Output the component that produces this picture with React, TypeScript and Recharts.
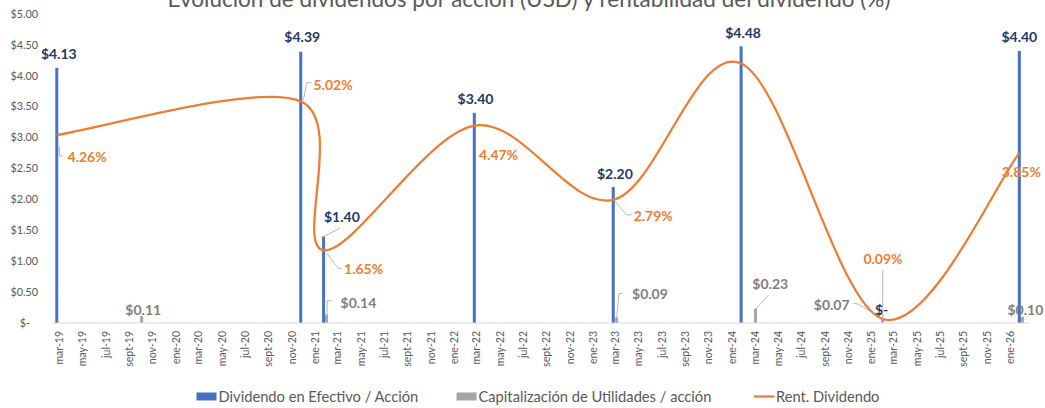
import React from 'react';
import { ComposedChart, Bar, Line, XAxis, YAxis, LabelList } from 'recharts';

// ---------------- DATA ----------------
const chartTitle = 'Evolución de dividendos por acción (USD) y rentabilidad del dividendo (%)';

const paymentDates = [
  '2019-02-22', '2019-10-03', '2020-11-24', '2021-01-23', '2021-01-31', '2022-02-23',
  '2023-02-23', '2023-03-04', '2024-01-25', '2024-03-03', '2025-01-31', '2026-01-25', '2026-02-02',
];
const cashDividend: (number | null)[] = [4.13, null, 4.39, 1.4, null, 3.4, 2.2, null, 4.48, null, 0, 4.4, null];
const capitalization: (number | null)[] = [null, 0.11, null, null, 0.14, null, null, 0.09, null, 0.23, 0.07, null, 0.1];
const dividendYield: (number | null)[] = [4.26, null, 5.02, 1.65, null, 4.47, 2.79, null, 5.88, null, 0.09, 3.85, null];

const tickLabels = [
  'mar-19', 'may-19', 'jul-19', 'sept-19', 'nov-19', 'ene-20', 'mar-20', 'may-20', 'jul-20', 'sept-20', 'nov-20',
  'ene-21', 'mar-21', 'may-21', 'jul-21', 'sept-21', 'nov-21', 'ene-22', 'mar-22', 'may-22', 'jul-22', 'sept-22',
  'nov-22', 'ene-23', 'mar-23', 'may-23', 'jul-23', 'sept-23', 'nov-23', 'ene-24', 'mar-24', 'may-24', 'jul-24',
  'sept-24', 'nov-24', 'ene-25', 'mar-25', 'may-25', 'jul-25', 'sept-25', 'nov-25', 'ene-26',
];
const usdTicks = [0, 0.5, 1, 1.5, 2, 2.5, 3, 3.5, 4, 4.5, 5];
const axisStart = '2019-02-12';
const axisEnd = '2026-02-22';

const seriesNames = ['Dividendo en Efectivo / Acción', 'Capitalización de Utilidades / acción', 'Rent. Dividendo'];

// ---------------- STYLE / LAYOUT ----------------
const FONT = "Lato, 'Open Sans', sans-serif";
const BLUE = '#4472c4';
const GRAY = '#a5a5a5';
const ORANGE = '#ed7d31';
const NAVY = '#1f3864';
const LABEL_GRAY = '#7f7f7f';
const TEXT_GRAY = '#595959';
const LEADER = '#a6a6a6';

type Layout = { dx: number; dy: number; leader?: number[][] };

const cashLabelLayout: Record<string, Layout> = {
  '2019-02-22': { dx: 2, dy: -14 },
  '2020-11-24': { dx: 1.5, dy: -14.4 },
  '2021-01-23': { dx: 18.3, dy: -19.5, leader: [[-0.2, 0.2], [16.3, -8.2]] },
  '2022-02-23': { dx: 1.2, dy: -14 },
  '2023-02-23': { dx: 1.7, dy: -13 },
  '2024-01-25': { dx: 2, dy: -13 },
  '2025-01-31': { dx: -1, dy: -13 },
  '2026-01-25': { dx: 0, dy: -14 },
};
const capLabelLayout: Record<string, Layout> = {
  '2019-10-03': { dx: 1.6, dy: -6.5 },
  '2021-01-31': { dx: 31.8, dy: -11.8, leader: [[0.5, 0], [0.6, -13.6], [5, -13.6]] },
  '2023-03-04': { dx: 33.3, dy: -23.4, leader: [[0, 0], [2.3, -24], [6, -24]] },
  '2024-03-03': { dx: 14.7, dy: -24.8, leader: [[0, 0.5], [13, -13.8]] },
  '2025-01-31': { dx: -51, dy: -13.7, leader: [[-29.4, -15.4], [-24.7, -14.7], [-6, -3.7]] },
  '2026-02-02': { dx: 3, dy: -6.8 },
};
const yieldLabelLayout: Record<string, Layout> = {
  '2019-02-22': { dx: 30.3, dy: 21.7, leader: [[2.6, 11.7], [2.6, 21], [6.6, 21]] },
  '2020-11-24': { dx: 32.3, dy: -16.4, leader: [[2.6, -1.4], [6, -18.7], [11, -18.7]] },
  '2021-01-23': { dx: 40, dy: 18.8, leader: [[3, 3.1], [14.6, 18.1], [18, 18.1]] },
  '2022-02-23': { dx: 24.2, dy: 29.3 },
  '2023-02-23': { dx: 40, dy: 15.8, leader: [[1.7, 1.7], [13.4, 15], [18.4, 15]] },
  '2025-01-31': { dx: 0.3, dy: -60, leader: [[0, -49], [0, 2.7]] },
  '2026-01-25': { dx: 2, dy: 19 },
};

// ---------------- DERIVED TABLE ----------------
const toTime = (iso: string) => Date.parse(iso + 'T00:00:00Z');

const data = paymentDates.map((d, i) => ({
  key: d,
  t: toTime(d),
  cash: cashDividend[i],
  cap: capitalization[i],
  yld: dividendYield[i],
}));
const byTime = new Map<number, (typeof data)[number]>(data.map((r) => [r.t, r]));

const MONTHS: Record<string, number> = {
  ene: 0, feb: 1, mar: 2, abr: 3, may: 4, jun: 5, jul: 6, ago: 7, sept: 8, oct: 9, nov: 10, dic: 11,
};
const tickValues = tickLabels.map((l) => {
  const [m, y] = l.split('-');
  return Date.UTC(2000 + Number(y), MONTHS[m], 1);
});
const tickLabelOf = new Map<number, string>(tickValues.map((v, i) => [v, tickLabels[i]]));

// Excel-like smoothed line (Catmull-Rom style bezier)
const excelCurve: any = (context: any) => {
  let pts: [number, number][] = [];
  return {
    areaStart() {},
    areaEnd() {},
    lineStart() {
      pts = [];
    },
    point(x: number, y: number) {
      pts.push([+x, +y]);
    },
    lineEnd() {
      const n = pts.length;
      if (n === 0) return;
      context.moveTo(pts[0][0], pts[0][1]);
      for (let i = 0; i < n - 1; i++) {
        const p0 = pts[Math.max(i - 1, 0)];
        const p1 = pts[i];
        const p2 = pts[i + 1];
        const p3 = pts[Math.min(i + 2, n - 1)];
        context.bezierCurveTo(
          p1[0] + (p2[0] - p0[0]) / 6,
          p1[1] + (p2[1] - p0[1]) / 6,
          p2[0] - (p3[0] - p1[0]) / 6,
          p2[1] - (p3[1] - p1[1]) / 6,
          p2[0],
          p2[1],
        );
      }
    },
  };
};

const fmtUsd = (v: number) => (v === 0 ? '$-' : `$${v.toFixed(2)}`);
const fmtPct = (v: number) => `${v.toFixed(2)}%`;

const LabelText = ({
  ax, ay, lay, color, text,
}: { ax: number; ay: number; lay: Layout; color: string; text: string }) => (
  <g>
    {lay.leader && (
      <polyline
        points={lay.leader.map(([lx, ly]) => `${ax + lx},${ay + ly}`).join(' ')}
        fill="none"
        stroke={LEADER}
        strokeWidth={0.8}
      />
    )}
    <text
      x={ax + lay.dx}
      y={ay + lay.dy}
      dy="0.36em"
      textAnchor="middle"
      fontFamily={FONT}
      fontWeight={700}
      fontSize={14}
      fill={color}
    >
      {text}
    </text>
  </g>
);

function makeLabel(
  field: 'cash' | 'cap' | 'yld',
  layouts: Record<string, Layout>,
  fallback: Layout | null,
  color: string,
  fmt: (v: number) => string,
) {
  return (props: any) => {
    const rec = byTime.get(props.value) ?? data[props.index];
    if (!rec) return null;
    const v = rec[field];
    const vb = props.viewBox ?? {};
    const px = props.x ?? vb.x;
    const py = props.y ?? vb.y;
    const w = props.width ?? vb.width ?? 0;
    const h = props.height ?? vb.height ?? 0;
    if (px == null || py == null || Number.isNaN(px) || Number.isNaN(py)) return null;
    const ax = field === 'yld' ? px : px + w / 2;
    const parts: React.ReactNode[] = [];
    if (v != null) {
      const lay = layouts[rec.key] ?? fallback;
      if (lay) parts.push(<LabelText key="main" ax={ax} ay={py} lay={lay} color={color} text={fmt(v)} />);
    }
    // a zero cash dividend draws no bar: its "$-" label sits at the base of the stacked column
    if (field === 'cap' && rec.cash === 0) {
      const lay = cashLabelLayout[rec.key] ?? { dx: 0, dy: -13 };
      parts.push(<LabelText key="zero" ax={ax} ay={py + h} lay={lay} color={NAVY} text={fmtUsd(0)} />);
    }
    if (!parts.length) return null;
    return <g>{parts}</g>;
  };
}

const CashLabel = makeLabel('cash', cashLabelLayout, { dx: 1.5, dy: -13.5 }, NAVY, fmtUsd);
const CapLabel = makeLabel('cap', capLabelLayout, { dx: 1.5, dy: -6.5 }, LABEL_GRAY, fmtUsd);
const YieldLabel = makeLabel('yld', yieldLabelLayout, null, ORANGE, fmtPct);

const CashLabelNonZero = (props: any) => {
  const rec = byTime.get(props.value) ?? data[props.index];
  if (!rec || rec.cash === 0) return null;
  return CashLabel(props);
};

const XTick = (props: any) => {
  const { x, y, payload } = props;
  return (
    <text
      transform={`translate(${x},${y}) rotate(-90)`}
      textAnchor="end"
      dy="0.35em"
      fontFamily={FONT}
      fontSize={10.5}
      fill={TEXT_GRAY}
    >
      {tickLabelOf.get(payload.value) ?? ''}
    </text>
  );
};

const YTick = (props: any) => {
  const { x, y, payload } = props;
  const v = payload.value as number;
  return (
    <text x={v === 0 ? x - 8 : x} y={y} dy="0.35em" textAnchor="end" fontFamily={FONT} fontSize={10.8} fill={TEXT_GRAY}>
      {v === 0 ? '$-' : `$${v.toFixed(2)}`}
    </text>
  );
};

const LEGEND_FONT = 14.7;

export default function App() {
  return (
    <div style={{ position: 'absolute', left: 0, top: 0, width: 1045, height: 408, background: '#fff' }}>
      <ComposedChart
        width={1045}
        height={408}
        data={data}
        margin={{ top: 14, right: 15, bottom: 0, left: 0 }}
      >
        <XAxis
          dataKey="t"
          type="number"
          domain={[toTime(axisStart), toTime(axisEnd)]}
          ticks={tickValues}
          interval={0}
          height={85}
          tickLine={false}
          tickSize={0}
          tickMargin={8}
          axisLine={{ stroke: '#d9d9d9', strokeWidth: 1 }}
          tick={<XTick />}
        />
        <YAxis
          yAxisId="usd"
          domain={[0, 5]}
          ticks={usdTicks}
          width={53}
          axisLine={false}
          tickLine={false}
          tickSize={0}
          tickMargin={15}
          tick={<YTick />}
        />
        <YAxis yAxisId="pct" orientation="right" domain={[0, 7]} hide />
        <Bar
          yAxisId="usd"
          dataKey="cash"
          name={seriesNames[0]}
          stackId="div"
          fill={BLUE}
          barSize={3}
          isAnimationActive={false}
        >
          <LabelList dataKey="t" content={CashLabelNonZero} />
        </Bar>
        <Bar
          yAxisId="usd"
          dataKey="cap"
          name={seriesNames[1]}
          stackId="div"
          fill={GRAY}
          barSize={3}
          isAnimationActive={false}
        >
          <LabelList dataKey="t" content={CapLabel} />
        </Bar>
        <Line
          yAxisId="pct"
          dataKey="yld"
          name={seriesNames[2]}
          type={excelCurve}
          stroke={ORANGE}
          strokeWidth={2.25}
          dot={false}
          activeDot={false}
          connectNulls
          isAnimationActive={false}
        >
          <LabelList dataKey="t" content={YieldLabel} />
        </Line>
      </ComposedChart>
      <svg
        width={1045}
        height={408}
        style={{ position: 'absolute', left: 0, top: 0, pointerEvents: 'none' }}
      >
        <text x={529} y={6.5} textAnchor="middle" fontFamily={FONT} fontSize={22.5} fill={TEXT_GRAY}>
          {chartTitle}
        </text>
        <rect x={196.5} y={392.5} width={20} height={8} fill={BLUE} />
        <text x={218.5} y={397} dy="0.35em" fontFamily={FONT} fontSize={LEGEND_FONT} fill={TEXT_GRAY}>
          {seriesNames[0]}
        </text>
        <rect x={456.5} y={392.5} width={20} height={8} fill={GRAY} />
        <text x={478.5} y={397} dy="0.35em" fontFamily={FONT} fontSize={LEGEND_FONT} fill={TEXT_GRAY}>
          {seriesNames[1]}
        </text>
        <line x1={754} x2={774.5} y1={396.5} y2={396.5} stroke={ORANGE} strokeWidth={2.25} />
        <text x={776} y={397} dy="0.35em" fontFamily={FONT} fontSize={LEGEND_FONT} fill={TEXT_GRAY}>
          {seriesNames[2]}
        </text>
      </svg>
    </div>
  );
}
